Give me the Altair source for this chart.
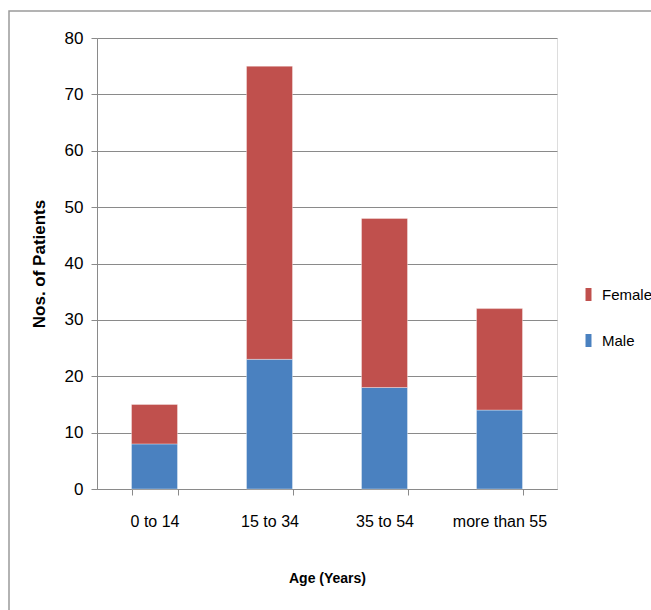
import altair as alt
import pandas as pd

# Patients by age group, split by sex
age_groups = ["0 to 14", "15 to 34", "35 to 54", "more than 55"]
male = [8, 23, 18, 14]
female = [7, 52, 30, 18]

rows = []
for g, m, f in zip(age_groups, male, female):
    rows.append({"age": g, "sex": "Male", "patients": m, "ord": 0})
    rows.append({"age": g, "sex": "Female", "patients": f, "ord": 1})
df = pd.DataFrame(rows)

FONT = "Liberation Sans, Arial, sans-serif"
GRID = "#8a8a8a"

bars = alt.Chart(df).mark_bar(stroke="#ffffff", strokeWidth=0.6, strokeOpacity=0.6).encode(
    x=alt.X(
        "age:N",
        sort=age_groups,
        scale=alt.Scale(paddingInner=0.6, paddingOuter=0.3),
        axis=alt.Axis(
            title="Age (Years)",
            labelAngle=0,
            labelFont=FONT,
            labelFontSize=16,
            labelColor="#000000",
            labelPadding=18,
            titleFont=FONT,
            titleFontSize=14,
            titleFontWeight="bold",
            titleColor="#000000",
            titlePadding=42,
            tickBand="extent",
            tickSize=6,
            tickColor=GRID,
            domainColor=GRID,
            grid=False,
        ),
    ),
    y=alt.Y(
        "patients:Q",
        stack="zero",
        scale=alt.Scale(domain=[0, 80], nice=False),
        axis=alt.Axis(
            title="Nos. of Patients",
            values=list(range(0, 81, 10)),
            labelFont=FONT,
            labelFontSize=17,
            labelColor="#000000",
            labelPadding=8,
            titleFont=FONT,
            titleFontSize=17,
            titleFontWeight="bold",
            titleColor="#000000",
            titlePadding=16,
            tickSize=6,
            tickColor=GRID,
            domainColor=GRID,
            gridColor=GRID,
            gridWidth=1,
        ),
    ),
    color=alt.Color(
        "sex:N",
        scale=alt.Scale(domain=["Female", "Male"], range=["#C0504D", "#4A81C0"]),
        legend=alt.Legend(
            title=None,
            orient="none",
            legendX=484,
            legendY=249,
            symbolType="M-0.46,-1H0.46V1H-0.46Z",
            symbolSize=169,
            symbolStrokeWidth=0,
            labelFont=FONT,
            labelFontSize=15,
            labelColor="#000000",
            labelOffset=6,
            rowPadding=30,
            padding=0,
        ),
    ),
    order=alt.Order("ord:Q", sort="ascending"),
)

# outer frame around the chart
frame = alt.Chart(pd.DataFrame({"k": [0]})).mark_rect(
    fill=None, stroke="#9a9a9a", strokeWidth=1.5
).encode(
    x=alt.value(-88), x2=alt.value(620), y=alt.value(-27), y2=alt.value(620)
)

chart = alt.layer(frame, bars).properties(
    width=460,
    height=451,
    autosize=alt.AutoSizeParams(type="none"),
    padding={"left": 97, "top": 38, "right": 94, "bottom": 121},
).configure_view(stroke=None).configure(background="#ffffff")

chart.save("out.html", embed_options={"renderer": "svg", "actions": False})
